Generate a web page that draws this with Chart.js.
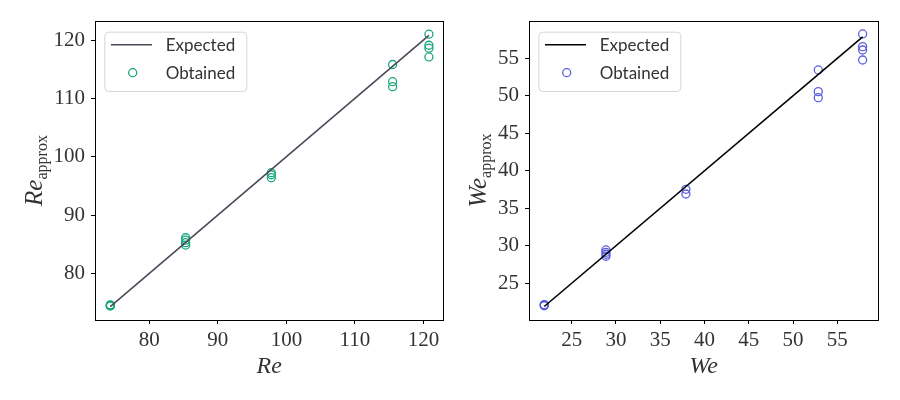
<!DOCTYPE html>
<html>
<head>
<meta charset="utf-8">
<script src="https://cdn.jsdelivr.net/npm/chart.js@4.4.0/dist/chart.umd.min.js"></script>
<style>
  body { margin: 0; background: #fff; }
  .wrap { display: flex; width: 900px; height: 400px; }
  canvas { display: block; }
</style>
</head>
<body>
<div class="wrap">
  <canvas id="reChart" width="450" height="400"></canvas>
  <canvas id="weChart" width="450" height="400"></canvas>
</div>
<script>
// Re panel data
const reX = [74.3, 74.3, 74.3, 74.3, 85.3, 85.3, 85.3, 85.3, 97.8, 97.8, 97.8, 115.5, 115.5, 115.5, 120.8, 120.8, 120.8, 120.8];
const reY = [74.6, 74.5, 74.4, 74.5, 86.1, 85.7, 85.25, 84.85, 97.25, 96.4, 96.9, 115.8, 112.85, 112.0, 121.0, 119.1, 118.6, 117.1];
const reTicksX = [80, 90, 100, 110, 120];
const reTicksY = [80, 90, 100, 110, 120];

// We panel data
const weX = [21.9, 21.9, 21.9, 28.87, 28.87, 28.87, 28.87, 37.9, 37.9, 52.85, 52.85, 52.85, 57.86, 57.86, 57.86, 57.86];
const weY = [22.1, 22.0, 22.15, 29.44, 29.13, 28.87, 28.6, 37.53, 36.9, 53.44, 50.55, 49.75, 58.24, 56.55, 56.1, 54.77];
const weTicksX = [25, 30, 35, 40, 45, 50, 55];
const weTicksY = [25, 30, 35, 40, 45, 50, 55];

const legendLabels = ['Expected', 'Obtained'];

const serif = "'Liberation Serif', 'DejaVu Serif', serif";
const textColor = '#333333';

function toPoints(xs, ys) {
    return xs.map((x, i) => ({ x: x, y: ys[i] }));
}

// expected y = x line, from smallest to largest x
function diagonal(xs) {
    const lo = Math.min(...xs);
    const hi = Math.max(...xs);
    return [{ x: lo, y: lo }, { x: hi, y: hi }];
}

// frame around the plot area + matplotlib-like legend
const framePlugin = {
    id: 'frame',
    afterDraw(chart, args, opts) {
        const ctx = chart.ctx;
        const a = chart.chartArea;
        ctx.save();
        ctx.strokeStyle = '#000';
        ctx.lineWidth = 1;
        ctx.strokeRect(Math.round(a.left) + 0.5, Math.round(a.top) + 0.5,
            Math.round(a.right - a.left), Math.round(a.bottom - a.top));

        // legend box
        const bx = a.left + 9.3, by = a.top + 10.7, bw = 142, bh = 59.3;
        ctx.beginPath();
        ctx.roundRect(bx + 0.5, by + 0.5, bw, bh, 4);
        ctx.fillStyle = 'rgba(255,255,255,0.85)';
        ctx.fill();
        ctx.strokeStyle = '#d6d6d6';
        ctx.stroke();

        const ds = chart.data.datasets;
        ctx.strokeStyle = ds[0].borderColor;
        ctx.lineWidth = ds[0].borderWidth;
        ctx.beginPath();
        ctx.moveTo(bx + 6.7, by + 13);
        ctx.lineTo(bx + 47.7, by + 13);
        ctx.stroke();

        ctx.strokeStyle = ds[1].borderColor;
        ctx.lineWidth = ds[1].borderWidth;
        ctx.beginPath();
        ctx.arc(bx + 28.4, by + 41, ds[1].pointRadius, 0, Math.PI * 2);
        ctx.stroke();

        ctx.fillStyle = textColor;
        ctx.font = "17px Lato, 'Open Sans', sans-serif";
        ctx.textBaseline = 'middle';
        ctx.textAlign = 'left';
        ctx.fillText(legendLabels[0], bx + 61.4, by + 14);
        ctx.fillText(legendLabels[1], bx + 61.4, by + 42);

        // axis titles
        const cx = (a.left + a.right) / 2;
        const cy = (a.top + a.bottom) / 2;
        ctx.textBaseline = 'alphabetic';
        ctx.textAlign = 'center';
        ctx.font = 'italic 24px ' + serif;
        ctx.fillText(opts.xTitle, cx, 373);

        ctx.font = 'italic 25px ' + serif;
        const mainW = ctx.measureText(opts.xTitle).width;
        ctx.font = '16px ' + serif;
        const subW = ctx.measureText('approx').width;
        ctx.translate(opts.yTitleX, cy);
        ctx.rotate(-Math.PI / 2);
        ctx.textAlign = 'left';
        const start = -(mainW + subW) / 2;
        ctx.font = 'italic 25px ' + serif;
        ctx.fillText(opts.xTitle, start, 0);
        ctx.font = '16px ' + serif;
        ctx.fillText('approx', start + mainW, 5);
        ctx.restore();
    }
};

function makeChart(id, xs, ys, ticksX, ticksY, range, lineColor, markColor, yWidth, padRight, title, yTitleX) {
    const axis = (ticks, min, max) => ({
        type: 'linear',
        min: min,
        max: max,
        afterBuildTicks: s => { s.ticks = ticks.map(v => ({ value: v })); },
        grid: { display: true, drawOnChartArea: false, drawTicks: true, tickLength: 4, color: '#000' },
        border: { display: false },
        ticks: { color: textColor, font: { family: serif, size: 21 }, padding: 4 }
    });
    const xAxis = axis(ticksX, range[0], range[1]);
    xAxis.afterFit = s => { s.height = 80; };
    const yAxis = axis(ticksY, range[2], range[3]);
    yAxis.afterFit = s => { s.width = yWidth; };
    yAxis.ticks.padding = 6;

    return new Chart(document.getElementById(id), {
        type: 'scatter',
        data: {
            datasets: [
                {
                    label: legendLabels[0],
                    data: diagonal(xs),
                    showLine: true,
                    borderColor: lineColor,
                    borderWidth: 1.6,
                    pointRadius: 0
                },
                {
                    label: legendLabels[1],
                    data: toPoints(xs, ys),
                    backgroundColor: 'rgba(0,0,0,0)',
                    borderColor: markColor,
                    borderWidth: 1.3,
                    pointRadius: 4
                }
            ]
        },
        options: {
            responsive: false,
            animation: false,
            layout: { padding: { top: 21, right: padRight, left: 0, bottom: 0 } },
            plugins: {
                legend: { display: false },
                tooltip: { enabled: false },
                frame: { xTitle: title, yTitleX: yTitleX }
            },
            scales: { x: xAxis, y: yAxis }
        },
        plugins: [framePlugin]
    });
}

makeChart('reChart', reX, reY, reTicksX, reTicksY, [72.07, 122.9, 72.0, 123.26],
    '#4b4a5a', '#17a67b', 95, 6.7, 'Re', 42);
makeChart('weChart', weX, weY, weTicksX, weTicksY, [20.18, 59.63, 20.1, 59.97],
    '#000000', '#5b5fdc', 79, 21.7, 'We', 36);
</script>
</body>
</html>
